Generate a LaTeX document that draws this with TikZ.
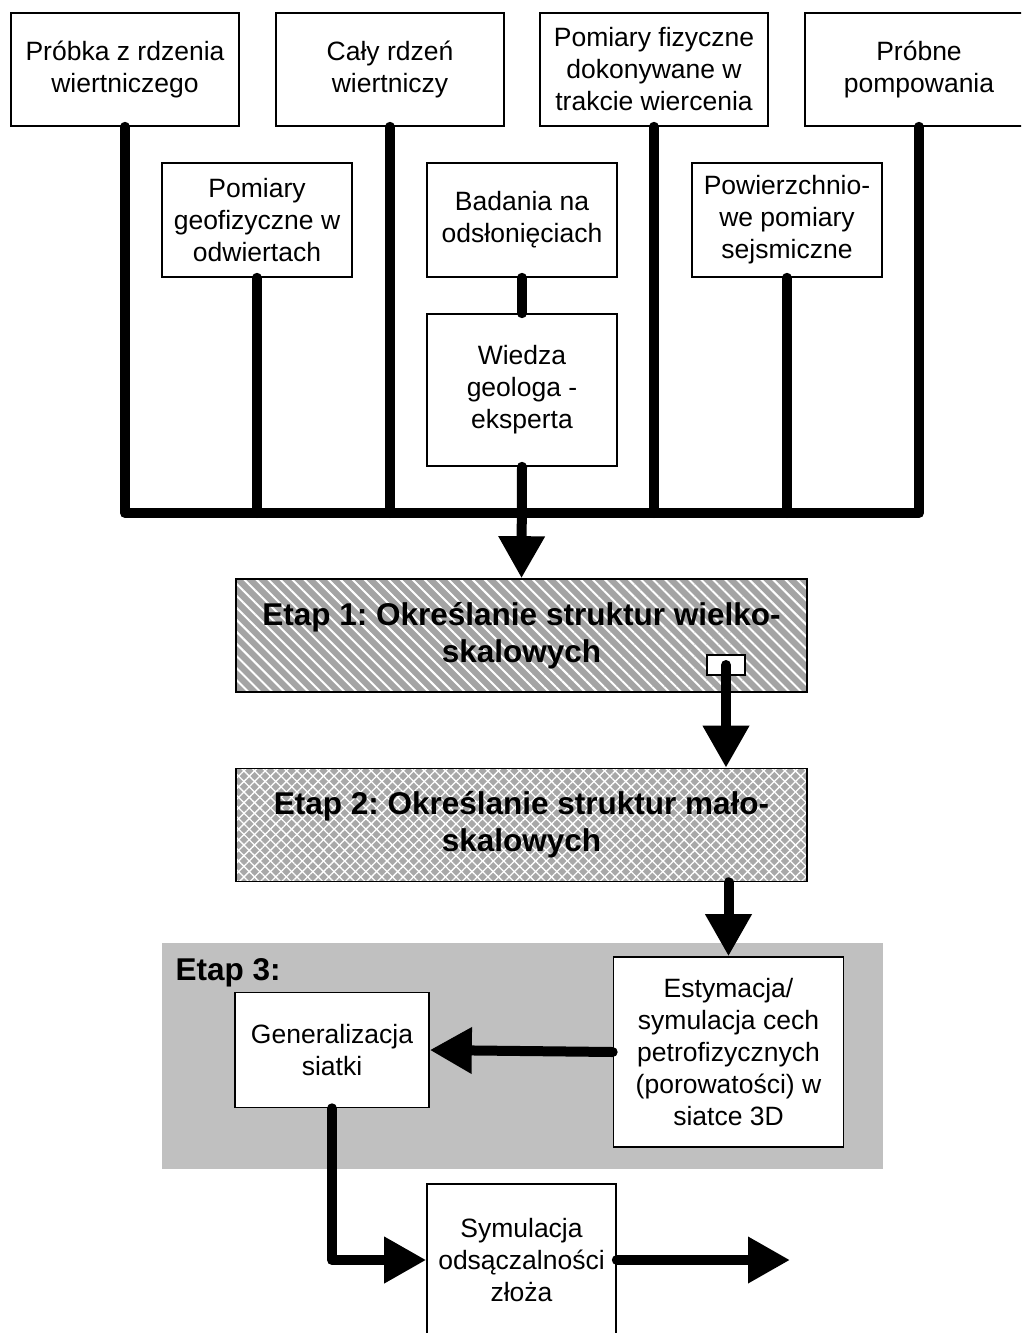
\documentclass[tikz,border=0pt]{standalone}
\usepackage{fontspec}
\setmainfont{Liberation Sans}
\frenchspacing
\usetikzlibrary{arrows.meta, patterns.meta, positioning}
\definecolor{cgrey}{HTML}{C0C0C0}
\definecolor{chatch}{HTML}{A4A4A4}
\definecolor{ccross}{HTML}{A8A8A8}

\begin{document}
\begin{tikzpicture}[x=1pt, y=-1pt,
    box/.style={draw, line width=1.6pt, fill=white, align=center, inner sep=0pt, font=\fontsize{26.5}{32}\selectfont},
    etapbox/.style={draw, line width=1.6pt, align=center, inner sep=0pt, minimum width=571pt, minimum height=113pt, font=\fontsize{31.5}{37}\selectfont\bfseries},
    flow/.style={line width=10pt, line cap=round, line join=round},
    tip/.style={-{Triangle[width=44pt, length=42pt]}}]
    \useasboundingbox (0,0) rectangle (1021,1333);
    \clip (0,0) rectangle (1021,1333);
    % etap 3 background
    \fill[cgrey] (162,943) rectangle (883,1169);
    \node (etap3) [anchor=west, font=\fontsize{31.5}{33}\selectfont\bfseries] at (172,973) {Etap 3:};
    % data sources
    \begin{scope}[every node/.append style={box, minimum width=228pt, minimum height=113pt}]
        \node (core) at (125,69.5) {Próbka z rdzenia\\wiertniczego};
        \node (wholecore) at (390,69.5) {Cały rdzeń\\wiertniczy};
        \node (drillmeas) at (654,69.5) {Pomiary fizyczne\\dokonywane w\\trakcie wiercenia};
        \node (pumping) at (919,69.5) {Próbne\\pompowania};
    \end{scope}
    \begin{scope}[every node/.append style={box, minimum width=190pt, minimum height=114pt}]
        \node (welllogs) at (257,220) {Pomiary\\geofizyczne w\\odwiertach};
        \node (outcrops) at (522,220) {Badania na\\odsłonięciach};
        \node (seismic) at (787,220) {Powierzchnio-\\we pomiary\\sejsmiczne};
        \node (expert) [minimum height=152pt] at (522,390) {Wiedza\\geologa -\\eksperta};
    \end{scope}
    % stages
    \node (etap1) [etapbox, preaction={fill=chatch}, preaction={pattern={Lines[angle=-45, distance=8.5pt, line width=2pt]}, pattern color=white}] at (521.5,635.5) {Etap 1: Określanie struktur wielko-\\skalowych};
    \node (port1) [draw, line width=1.2pt, fill=white, minimum width=38pt, minimum height=20pt, inner sep=0pt] at (726,665) {};
    \node (etap2) [etapbox, preaction={fill=ccross}, preaction={pattern={Lines[angle=45, distance=7.5pt, line width=1.3pt]}, pattern color=white}, preaction={pattern={Lines[angle=-45, distance=7.5pt, line width=1.3pt]}, pattern color=white}] at (521.5,825) {Etap 2: Określanie struktur mało-\\skalowych};
    \node (estim) [box, minimum width=230pt, minimum height=190pt] at (728.5,1052) {Estymacja/\\symulacja cech\\petrofizycznych\\(porowatości) w\\siatce 3D};
    \node (grid) [box, minimum width=194pt, minimum height=115pt] at (332,1050) {Generalizacja\\siatki};
    \node (flowsim) [box, minimum width=189pt, minimum height=152pt] at (521.5,1260) {Symulacja\\odsączalności\\złoża};
    % connectors
    \coordinate (bus) at (522,513);
    \coordinate (out) at (790,1260);
    \draw[flow] (core.south) |- (bus) -| (pumping.south);
    \foreach \n in {wholecore, welllogs, drillmeas, seismic} \draw[flow] (\n.south) -- (\n.south |- bus);
    \draw[flow] (outcrops.south) -- (expert.north);
    \draw[flow, tip] (expert.south) -- (etap1.north);
    \draw[flow, tip] (port1.center) -- (port1.center |- etap2.north);
    \draw[flow, tip] (estim.north |- etap2.south) -- (estim.north);
    \draw[flow, tip] (estim.west) -- (grid.east);
    \draw[flow, tip] (grid.south) |- (flowsim.west);
    \draw[flow, tip] (flowsim.east) -- (out);
\end{tikzpicture}
\end{document}
